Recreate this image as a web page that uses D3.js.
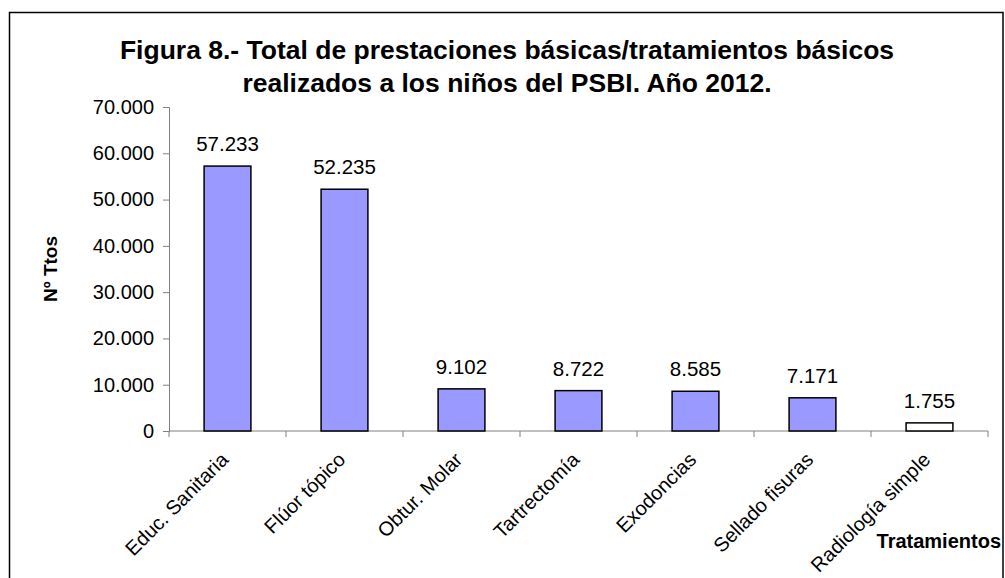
<!DOCTYPE html>
<html>
<head>
<meta charset="utf-8">
<script src="https://cdn.jsdelivr.net/npm/d3@7"></script>
<style>
  body { margin: 0; background: #fff; }
  text { font-family: "Liberation Sans", Arial, sans-serif; }
</style>
</head>
<body>
<div id="chart"></div>
<script>
const categories = ["Educ. Sanitaria", "Flúor tópico", "Obtur. Molar", "Tartrectomía", "Exodoncias", "Sellado fisuras", "Radiología simple"];
const values = [57233, 52235, 9102, 8722, 8585, 7171, 1755];
const fills = ["#9999ff", "#9999ff", "#9999ff", "#9999ff", "#9999ff", "#9999ff", "#ffffff"];
const yTicks = [0, 10000, 20000, 30000, 40000, 50000, 60000, 70000];
const titleLines = ["Figura 8.- Total de prestaciones básicas/tratamientos básicos", "realizados a los niños del PSBI. Año 2012."];

const width = 1005, height = 578,
  margin = { top: 107, bottom: 147, left: 169, right: 17 };

const fmt = v => d3.format(",")(v).replace(/,/g, ".");

const svg = d3.select("#chart").append("svg")
  .attr("width", width)
  .attr("height", height);

// outer frame
svg.append("rect")
  .attr("x", 9.5).attr("y", 12.5)
  .attr("width", 993.5).attr("height", 600)
  .attr("fill", "none").attr("stroke", "#000").attr("stroke-width", 1.5);

// band scale, ticks drawn at band edges like the spreadsheet axis
const x = d3.scaleBand()
  .domain(categories)
  .range([margin.left, width - margin.right]);

const y = d3.scaleLinear()
  .domain([0, 70000])
  .range([height - margin.bottom, margin.top]);

// title
svg.append("text")
  .attr("text-anchor", "middle")
  .style("font-weight", "bold").style("font-size", "26.5px")
  .selectAll("tspan")
  .data(titleLines)
  .join("tspan")
  .attr("x", 507)
  .attr("y", (d, i) => 59 + i * 33)
  .text(d => d);

// y axis
const yAxis = svg.append("g")
  .attr("transform", `translate(${margin.left},0)`)
  .call(d3.axisLeft(y).tickValues(yTicks).tickFormat(fmt).tickSize(6).tickPadding(9));
yAxis.select(".domain").attr("stroke", "#808080");
yAxis.selectAll(".tick line").attr("stroke", "#808080");
yAxis.selectAll("text")
  .style("font-size", "20px")
  .attr("fill", "#000")
  .attr("font-family", null);

// x axis
const xg = svg.append("g")
  .attr("transform", `translate(0,${height - margin.bottom})`);
xg.append("line")
  .attr("x1", margin.left).attr("x2", width - margin.right)
  .attr("stroke", "#808080");
xg.selectAll(".xt")
  .data(categories.map(c => x(c)).concat([x.range()[1]]))
  .join("line")
  .attr("class", "xt")
  .attr("x1", d => d)
  .attr("x2", d => d)
  .attr("y1", 0).attr("y2", 6)
  .attr("stroke", "#808080");

const cx = c => x(c) + x.bandwidth() / 2;
const bw = x.bandwidth() * 0.4;

// bars
svg.selectAll(".bar")
  .data(values)
  .join("rect")
  .attr("class", "bar")
  .attr("x", (d, i) => cx(categories[i]) - bw / 2)
  .attr("width", bw)
  .attr("y", d => y(d))
  .attr("height", d => y(0) - y(d))
  .attr("fill", (d, i) => fills[i])
  .attr("stroke", "#000")
  .attr("stroke-width", 1.5);

// value labels
svg.selectAll(".val")
  .data(values)
  .join("text")
  .attr("class", "val")
  .attr("x", (d, i) => cx(categories[i]))
  .attr("y", d => y(d) - 15)
  .attr("text-anchor", "middle")
  .style("font-size", "20.5px")
  .text(fmt);

// category labels
svg.selectAll(".cat")
  .data(categories)
  .join("text")
  .attr("class", "cat")
  .attr("text-anchor", "end")
  .attr("transform", d => `translate(${cx(d) + 2},${height - margin.bottom + 30}) rotate(-45)`)
  .style("font-size", "20px")
  .text(d => d);

// axis titles
svg.append("text")
  .attr("transform", "translate(57,269) rotate(-90)")
  .attr("text-anchor", "middle")
  .style("font-weight", "bold").style("font-size", "19px")
  .text("Nº Ttos");

svg.append("text")
  .attr("x", 1001).attr("y", 548)
  .attr("text-anchor", "end")
  .style("font-weight", "bold").style("font-size", "20px")
  .text("Tratamientos");
</script>
</body>
</html>
